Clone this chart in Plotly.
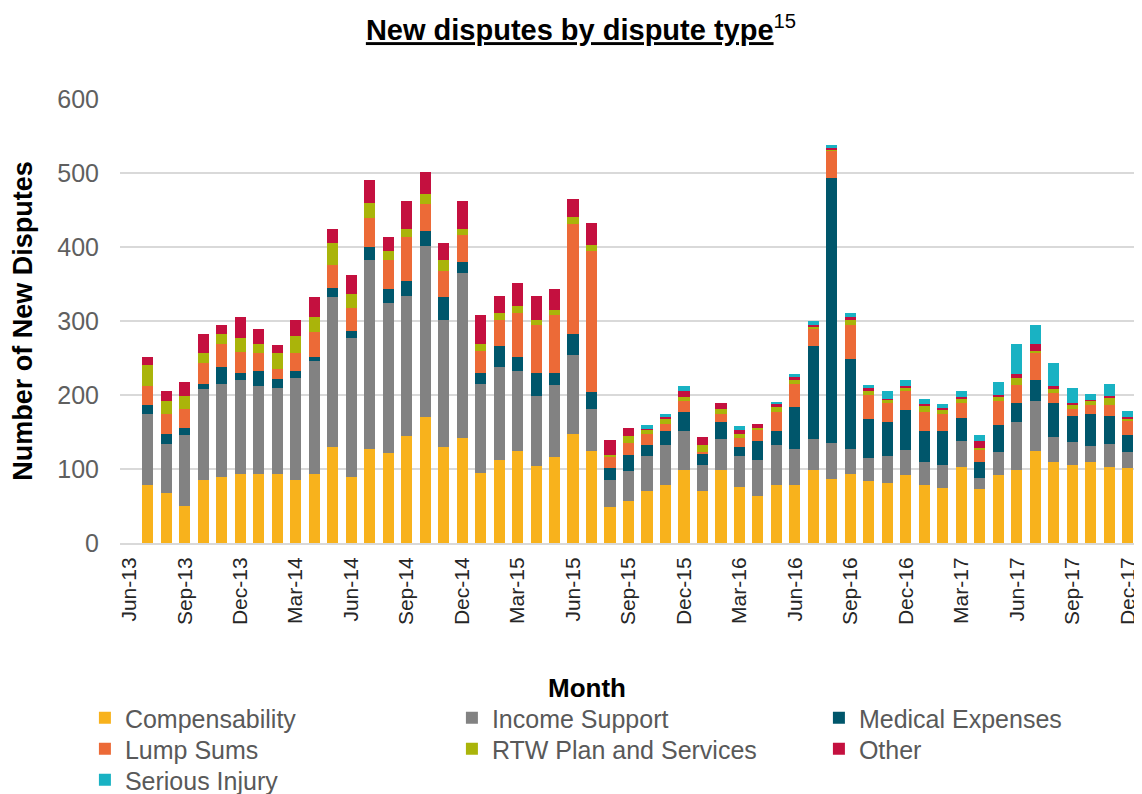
import plotly.graph_objects as go

months = ["Jun-13", "Jul-13", "Aug-13", "Sep-13", "Oct-13", "Nov-13", "Dec-13",
          "Jan-14", "Feb-14", "Mar-14", "Apr-14", "May-14", "Jun-14", "Jul-14", "Aug-14", "Sep-14", "Oct-14", "Nov-14", "Dec-14",
          "Jan-15", "Feb-15", "Mar-15", "Apr-15", "May-15", "Jun-15", "Jul-15", "Aug-15", "Sep-15", "Oct-15", "Nov-15", "Dec-15",
          "Jan-16", "Feb-16", "Mar-16", "Apr-16", "May-16", "Jun-16", "Jul-16", "Aug-16", "Sep-16", "Oct-16", "Nov-16", "Dec-16",
          "Jan-17", "Feb-17", "Mar-17", "Apr-17", "May-17", "Jun-17", "Jul-17", "Aug-17", "Sep-17", "Oct-17", "Nov-17", "Dec-17"]

tick_labels = ["Jun-13", "Sep-13", "Dec-13", "Mar-14", "Jun-14", "Sep-14", "Dec-14", "Mar-15", "Jun-15",
               "Sep-15", "Dec-15", "Mar-16", "Jun-16", "Sep-16", "Dec-16", "Mar-17", "Jun-17", "Sep-17", "Dec-17"]

compensability = [None, 79, 67, 50, 85, 89, 93,
                  93, 93, 85, 93, 130, 89, 127, 121, 144, 170, 130, 142,
                  95, 112, 124, 104, 116, 147, 124, 48, 57, 70, 79, 98,
                  70, 98, 76, 64, 79, 79, 98, 87, 93, 84, 81, 92,
                  78, 75, 103, 73, 92, 98, 124, 109, 106, 109, 103, 101]
income_support = [None, 95, 67, 96, 123, 126, 127,
                  119, 116, 138, 153, 202, 188, 255, 204, 190, 232, 172, 223,
                  120, 126, 108, 94, 97, 107, 57, 37, 40, 48, 53, 54,
                  36, 42, 42, 48, 53, 48, 42, 48, 34, 31, 37, 34,
                  31, 31, 35, 15, 31, 66, 68, 34, 31, 22, 31, 22]
medical_expenses = [None, 13, 13, 9, 7, 23, 10,
                    20, 12, 9, 6, 13, 9, 18, 18, 20, 20, 30, 15,
                    15, 28, 20, 32, 17, 29, 23, 17, 22, 14, 20, 25,
                    15, 24, 12, 26, 20, 57, 126, 358, 122, 52, 46, 54,
                    43, 46, 31, 21, 37, 25, 28, 46, 34, 44, 37, 23]
lump_sums = [None, 25, 28, 26, 28, 31, 28,
             25, 14, 25, 33, 31, 31, 39, 40, 59, 36, 36, 36,
             30, 36, 59, 64, 78, 148, 190, 14, 16, 15, 9, 15,
             2, 11, 12, 15, 25, 31, 23, 38, 46, 33, 25, 25,
             25, 23, 20, 17, 32, 25, 37, 14, 10, 11, 16, 19]
rtw_plan = [None, 28, 17, 17, 14, 14, 19,
            12, 22, 23, 20, 29, 20, 20, 11, 11, 13, 14, 8,
            9, 9, 9, 8, 7, 9, 9, 3, 10, 6, 6, 5,
            10, 6, 5, 3, 7, 5, 3, 1, 7, 6, 5, 5,
            9, 5, 5, 3, 6, 9, 3, 5, 6, 6, 10, 2]
other = [None, 12, 14, 20, 26, 12, 29,
         20, 10, 22, 27, 19, 25, 31, 19, 38, 30, 23, 38,
         39, 23, 31, 32, 28, 25, 30, 20, 11, 1, 3, 9,
         10, 8, 6, 5, 5, 4, 3, 2, 3, 3, 1, 2,
         2, 3, 3, 9, 2, 6, 9, 4, 2, 1, 1, 3]
serious_injury = [None, 0, 0, 0, 0, 0, 0,
                  0, 0, 0, 0, 0, 0, 0, 0, 0, 0, 0, 0,
                  0, 0, 0, 0, 0, 0, 0, 0, 0, 5, 5, 6,
                  0, 0, 5, 0, 2, 5, 5, 4, 6, 5, 11, 8,
                  6, 5, 8, 8, 18, 40, 26, 31, 20, 8, 17, 8]

series_names = ["Compensability", "Income Support", "Medical Expenses", "Lump Sums",
                "RTW Plan and Services", "Other", "Serious Injury"]
series_values = [compensability, income_support, medical_expenses, lump_sums,
                 rtw_plan, other, serious_injury]
series_colors = ["#F8B21C", "#828282", "#00566B", "#EC6A37", "#AAB40A", "#C4103F", "#19B2C3"]
legend_rows = ["legend", "legend", "legend", "legend2", "legend2", "legend2", "legend3"]

FONT = "Liberation Sans, Arial, sans-serif"

fig = go.Figure()
for name, vals, col, lg in zip(series_names, series_values, series_colors, legend_rows):
    fig.add_trace(go.Bar(x=months, y=vals, name=name, legend=lg,
                         marker=dict(color=col, line=dict(width=0))))

legend_common = dict(orientation="h", x=-0.0345, xanchor="left", yanchor="middle",
                     traceorder="normal", entrywidth=322, entrywidthmode="pixels",
                     font=dict(family=FONT, size=25, color="#595959"),
                     bgcolor="rgba(0,0,0,0)")

fig.update_layout(
    template="none",
    barmode="stack",
    bargap=0.4,
    width=1134, height=786,
    margin=dict(l=112, r=5, t=91, b=251, autoexpand=False),
    plot_bgcolor="white", paper_bgcolor="white",
    font=dict(family=FONT),
    title=dict(text="<b><u>New disputes by dispute type</u></b><sup>15</sup>",
               x=573 / 1134, xanchor="center", y=1 - 22 / 786, yanchor="middle",
               yref="container", font=dict(family=FONT, size=29, color="black")),
    xaxis=dict(type="category", categoryorder="array", categoryarray=months,
               range=[-0.5, len(months) - 0.5],
               tickmode="array", tickvals=tick_labels, ticktext=tick_labels,
               tickangle=-90, tickfont=dict(family=FONT, size=21, color="#262626"),
               ticklabelstandoff=4,
               showgrid=False, showline=True, linecolor="#D9D9D9", linewidth=2,
               ticks="", automargin=False),
    yaxis=dict(range=[0, 600], tickvals=[0, 100, 200, 300, 400, 500, 600],
               tickfont=dict(family=FONT, size=25, color="#5F5F5F"),
               ticklabelstandoff=20,
               showgrid=True, gridcolor="#D9D9D9", gridwidth=2,
               zeroline=False, showline=False, ticks="", automargin=False,
               title=dict(text="<b>Number of New Disputes</b>",
                          font=dict(family=FONT, size=27, color="black"), standoff=18)),
    legend=dict(legend_common, y=(535 - 710) / 444),
    legend2=dict(legend_common, y=(535 - 741) / 444),
    legend3=dict(legend_common, y=(535 - 772) / 444),
    annotations=[dict(text="<b>Month</b>", xref="paper", yref="paper",
                      x=(587 - 8 - 112) / 1017, y=(535 - 680) / 444,
                      xanchor="center", yanchor="middle", showarrow=False,
                      font=dict(family=FONT, size=26, color="black"))],
    showlegend=True,
)

fig.write_html("out.html")
